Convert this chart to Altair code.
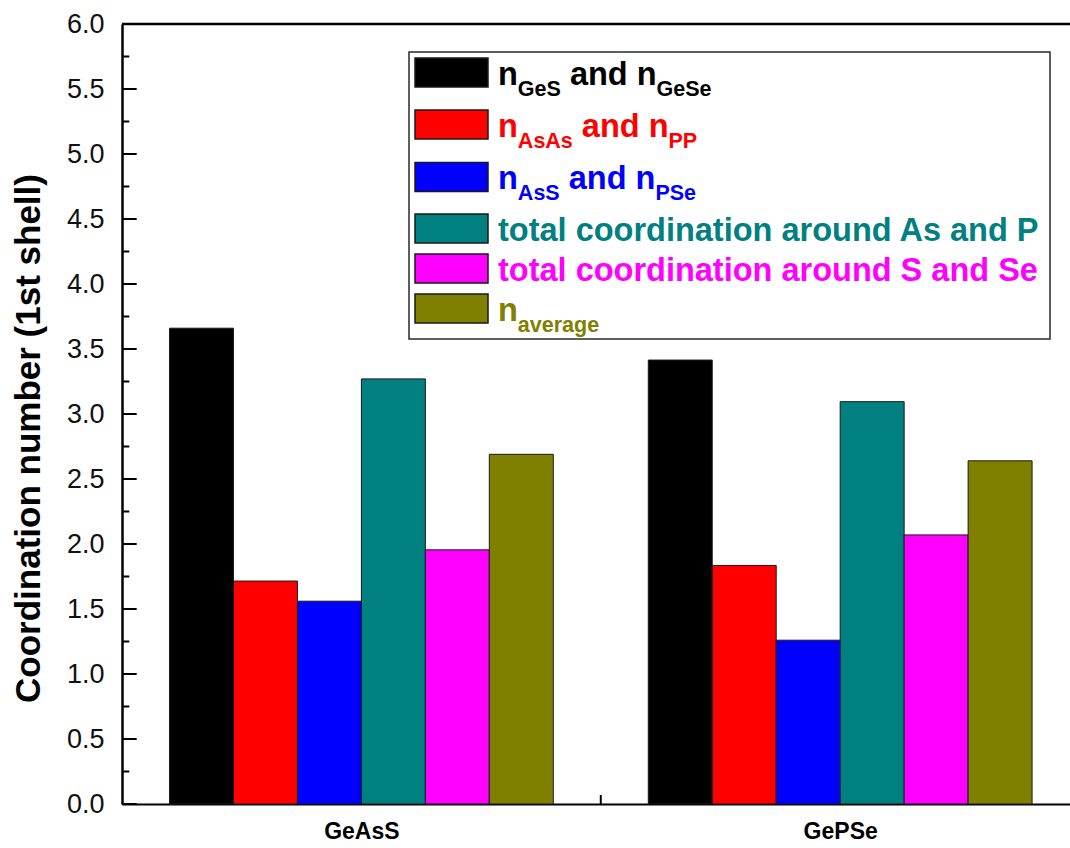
import json
import altair as alt
import pandas as pd

# ---- data -------------------------------------------------------------
samples = ["GeAsS", "GePSe"]
series = [
    "nGeS and nGeSe",
    "nAsAs and nPP",
    "nAsS and nPSe",
    "total coordination around As and P",
    "total coordination around S and Se",
    "naverage",
]
colors = ["#000000", "#FF0000", "#0000FF", "#008080", "#FF00FF", "#808000"]
geass_values = [3.66, 1.715, 1.56, 3.27, 1.955, 2.69]
gepse_values = [3.415, 1.835, 1.26, 3.095, 2.07, 2.64]
y_tick_values = [0.0, 0.5, 1.0, 1.5, 2.0, 2.5, 3.0, 3.5, 4.0, 4.5, 5.0, 5.5, 6.0]
y_minor_values = [0.25, 0.75, 1.25, 1.75, 2.25, 2.75, 3.25, 3.75, 4.25, 4.75, 5.25, 5.75]

# legend rows: (piece text, is_subscript)
legend_rows = [
    [("n", 0), ("GeS", 1), (" and n", 0), ("GeSe", 1)],
    [("n", 0), ("AsAs", 1), (" and n", 0), ("PP", 1)],
    [("n", 0), ("AsS", 1), (" and n", 0), ("PSe", 1)],
    [("total coordination around As and P", 0)],
    [("total coordination around S and Se", 0)],
    [("n", 0), ("average", 1)],
]

# ---- layout -----------------------------------------------------------
W, H = 948, 780
X_DOMAIN = [0.5, 2.48]
Y_DOMAIN = [0.0, 6.0]
FONT = "Liberation Sans"
BAR_W = 0.1336            # bar width in x-axis units
MAIN_FS, SUB_FS = 32.5, 21.5

# Arial/Liberation bold advance widths (1/1000 em)
ADV = {" ": 278, "A": 722, "G": 778, "P": 667, "S": 667, "a": 556, "d": 611,
       "e": 556, "g": 611, "n": 611, "r": 389, "s": 556, "v": 556}


def text_width(s, fs):
    return sum(ADV.get(ch, 556) for ch in s) * fs / 1000.0


def px_to_x(px):
    return X_DOMAIN[0] + px * (X_DOMAIN[1] - X_DOMAIN[0]) / W


def px_to_y(py):
    return Y_DOMAIN[1] - py * (Y_DOMAIN[1] - Y_DOMAIN[0]) / H


bar_rows = []
for g, (name, vals) in enumerate(zip(samples, [geass_values, gepse_values])):
    center = g + 1
    for i, (ser, v) in enumerate(zip(series, vals)):
        x0 = center + (i - 3) * BAR_W
        bar_rows.append({"sample": name, "series": ser, "x0": x0,
                         "x1": x0 + BAR_W, "v": v, "base": 0.0})
bars_df = pd.DataFrame(bar_rows)

# legend box, swatches and labels, laid out in plot pixels and expressed
# in axis units so that every layer shares the same scales
box = pd.DataFrame([{"x0": px_to_x(287), "x1": px_to_x(928),
                     "v": px_to_y(28), "base": px_to_y(315)}])
row_centers = [48.5, 100.5, 153, 204.5, 244.5, 284.5]
swatch_df = pd.DataFrame([
    {"x0": px_to_x(293), "x1": px_to_x(366),
     "v": px_to_y(c - 14.5), "base": px_to_y(c + 14.5), "col": col}
    for c, col in zip(row_centers, colors)
])
text_main, text_sub = [], []
for row, c, col in zip(legend_rows, row_centers, colors):
    x = 376.0
    for piece, sub in row:
        fs = SUB_FS if sub else MAIN_FS
        stripped = piece.lstrip(" ")
        x_draw = x + text_width(piece[: len(piece) - len(stripped)], fs)
        rec = {"x0": px_to_x(x_draw), "v": px_to_y(c + (23 if sub else 12)),
               "t": stripped, "col": col}
        (text_sub if sub else text_main).append(rec)
        x += text_width(piece, fs)
text_main_df = pd.DataFrame(text_main)
text_sub_df = pd.DataFrame(text_sub)

# ---- scales and axes (shared by every layer) --------------------------
x_scale = alt.Scale(domain=X_DOMAIN, nice=False, zero=False)
y_scale = alt.Scale(domain=Y_DOMAIN, nice=False)
Y_TITLE = "Coordination number (1st shell)"

x_axis = alt.Axis(
    values=[1, 2],
    labelExpr=f"{json.dumps(samples)}[datum.value - 1]",
    labelFont=FONT, labelFontSize=23,
    labelFontWeight="bold", labelColor="black", labelPadding=16,
    ticks=False, grid=False,
    domainColor="black", domainWidth=2,
)
y_axis = alt.Axis(
    values=y_tick_values, format=".1f",
    titleFont=FONT, titleFontSize=35, titleFontWeight="bold",
    titleColor="black", titleAngle=270, titleAlign="center",
    titleBaseline="middle", titleX=-94, titleY=414,
    labelFont=FONT, labelFontSize=27, labelColor="#111111",
    labelPadding=18, ticks=False, grid=False,
    domainColor="black", domainWidth=2.5,
)


def xenc(field):
    return alt.X(field, scale=x_scale, axis=x_axis, title=None)


def yenc(field):
    return alt.Y(field, scale=y_scale, axis=y_axis, title=Y_TITLE)


# ---- layers -----------------------------------------------------------
x_major = alt.Chart(pd.DataFrame({"x0": [1, 2]})).mark_rule(
    color="black", strokeWidth=2
).encode(x=xenc("x0:Q"), y=alt.value(H), y2=alt.value(H - 15))

x_minor = alt.Chart(pd.DataFrame({"x0": [1.5]})).mark_rule(
    color="black", strokeWidth=2
).encode(x=xenc("x0:Q"), y=alt.value(H), y2=alt.value(H - 9))

bars = alt.Chart(bars_df).mark_bar(stroke="#1a1a1a", strokeWidth=1).encode(
    x=xenc("x0:Q"),
    x2="x1:Q",
    y=yenc("v:Q"),
    y2="base:Q",
    color=alt.Color("series:N", scale=alt.Scale(domain=series, range=colors),
                    legend=None),
)

y_major = alt.Chart(pd.DataFrame({"v": y_tick_values})).mark_rule(
    color="black", strokeWidth=2
).encode(y=yenc("v:Q"), x=alt.value(0), x2=alt.value(14.7))

y_minor = alt.Chart(pd.DataFrame({"v": y_minor_values})).mark_rule(
    color="black", strokeWidth=2
).encode(y=yenc("v:Q"), x=alt.value(0), x2=alt.value(7.3))

top_line = alt.Chart(pd.DataFrame({"v": [6.0]})).mark_rule(
    color="black", strokeWidth=2.5
).encode(y=yenc("v:Q"), x=alt.value(0), x2=alt.value(W))

legend_box = alt.Chart(box).mark_rect(
    fill="white", stroke="#2a2a2a", strokeWidth=1.5
).encode(x=xenc("x0:Q"), x2="x1:Q", y=yenc("v:Q"), y2="base:Q")

legend_swatch = alt.Chart(swatch_df).mark_rect(
    stroke="#1a1a1a", strokeWidth=1.5
).encode(
    x=xenc("x0:Q"), x2="x1:Q", y=yenc("v:Q"), y2="base:Q",
    fill=alt.Fill("col:N", scale=None),
)
legend_main = alt.Chart(text_main_df).mark_text(
    align="left", baseline="alphabetic", font=FONT, fontSize=MAIN_FS,
    fontWeight="bold"
).encode(
    x=xenc("x0:Q"), y=yenc("v:Q"),
    text="t:N", fill=alt.Fill("col:N", scale=None),
)
legend_sub = alt.Chart(text_sub_df).mark_text(
    align="left", baseline="alphabetic", font=FONT, fontSize=SUB_FS,
    fontWeight="bold"
).encode(
    x=xenc("x0:Q"), y=yenc("v:Q"),
    text="t:N", fill=alt.Fill("col:N", scale=None),
)

chart = alt.layer(
    x_major, bars, x_minor, y_major, y_minor, top_line,
    legend_box, legend_swatch, legend_main, legend_sub,
).properties(
    width=W, height=H,
    padding={"left": 122, "top": 24, "right": 0, "bottom": 44},
    autosize=alt.AutoSizeParams(type="none"),
    background="white",
).configure_view(stroke=None)

chart.save("out.html", embed_options={"renderer": "svg", "actions": False})
